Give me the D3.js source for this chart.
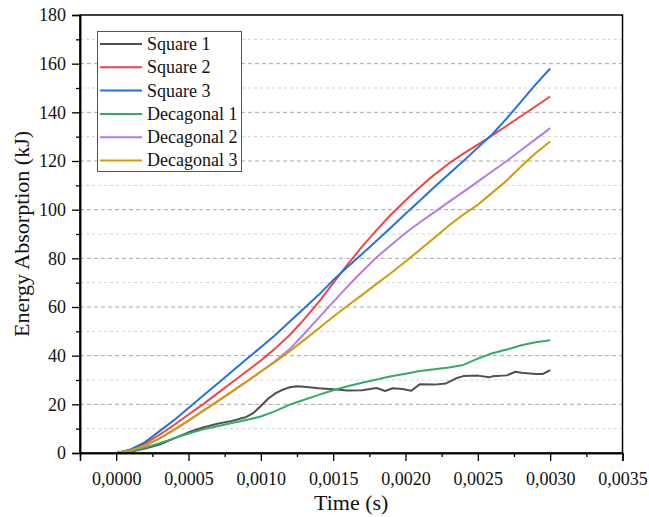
<!DOCTYPE html>
<html>
<head>
<meta charset="utf-8">
<script src="https://cdn.jsdelivr.net/npm/d3@7/dist/d3.min.js"></script>
<style>
  html, body { margin: 0; padding: 0; background: #fff; }
  svg { display: block; font-family: "Liberation Serif", "Times New Roman", serif; }
</style>
</head>
<body>
<svg id="chart" width="649" height="517"></svg>
<script>
// Time samples (s) shared by the smooth curves
const times = [0, 0.0001, 0.0002, 0.0003, 0.0004, 0.0005, 0.0006, 0.0007, 0.0008, 0.0009,
  0.0010, 0.0011, 0.0012, 0.0013, 0.0014, 0.0015, 0.0016, 0.0017, 0.0018, 0.0019,
  0.0020, 0.0021, 0.0022, 0.0023, 0.0024, 0.0025, 0.0026, 0.0027, 0.0028, 0.0029, 0.0030];

// Energy absorption (kJ)
const square2 = [0, 1.2, 4, 7.5, 11.5, 15.8, 20, 24.5, 29, 33.5,
  38, 43, 48.5, 55, 62, 69.8, 77.5, 84.8, 91.6, 98,
  103.8, 109.3, 114.4, 119, 123, 126.7, 130.5, 134.5, 138.5, 142.5, 146.5];
const square3 = [0, 1.5, 4.5, 9, 13.5, 18.5, 23.5, 28.5, 33.5, 38.5,
  43.5, 48.5, 54, 59.5, 65, 71, 76.5, 81.8, 87.2, 92.7,
  98.3, 103.8, 109.3, 114.7, 120, 125.5, 131, 137.5, 144.5, 151.5, 158];
const decagonal1 = [0, 0.6, 2.2, 4, 6, 8, 9.7, 11, 12.3, 13.6,
  15, 17.2, 19.9, 21.9, 23.9, 25.8, 27.4, 28.9, 30.2, 31.5,
  32.6, 33.7, 34.4, 35.1, 36.2, 38.8, 41, 42.5, 44.3, 45.5, 46.3];
const decagonal2 = [0, 1, 3, 6, 9.5, 13.3, 17.3, 21.2, 25.2, 29.3,
  33.5, 37.8, 42.7, 49, 55.5, 62, 68.5, 74.6, 80.4, 85.5,
  90.4, 94.8, 99, 103.2, 107.3, 111.5, 115.8, 120, 124.5, 129, 133.5];
const decagonal3 = [0, 1, 3, 6, 9.5, 13.3, 17.3, 21.2, 25.2, 29.3,
  33.4, 37.5, 41.8, 46.5, 51.2, 56, 60.5, 65, 69.5, 74,
  78.7, 83.5, 88.5, 93.5, 98, 102, 107, 112, 117.8, 123.3, 128];

// Square 1 is sampled more densely because it wiggles
const times1 = [0, 0.0001, 0.0002, 0.0003, 0.0004, 0.0005, 0.0006, 0.0007, 0.0008, 0.0009,
  0.00095, 0.0010, 0.00105, 0.0011, 0.00115, 0.0012, 0.00125, 0.0013, 0.0014, 0.0015,
  0.0016, 0.0017, 0.0018, 0.00186, 0.00191, 0.00198, 0.00204, 0.0021, 0.0022, 0.00228,
  0.00235, 0.0024, 0.0025, 0.00258, 0.0026, 0.0027, 0.00276, 0.0028, 0.0029, 0.00295, 0.0030];
const square1 = [0, 0.5, 1.8, 3.5, 6, 8.5, 10.5, 12, 13.2, 14.8,
  16.5, 19.3, 22.3, 24.5, 26, 27, 27.4, 27.2, 26.6, 26.2,
  25.7, 25.8, 26.7, 25.5, 26.6, 26.3, 25.6, 28.3, 28.1, 28.6,
  30.7, 31.6, 31.8, 31.1, 31.5, 31.9, 33.4, 33, 32.5, 32.5, 34.1];

const seriesNames = ["Square 1", "Square 2", "Square 3", "Decagonal 1", "Decagonal 2", "Decagonal 3"];
const seriesColors = ["#505050", "#f24444", "#2272e0", "#33aa6a", "#b27de4", "#d09c06"];
const xTicks = [0, 0.0005, 0.0010, 0.0015, 0.0020, 0.0025, 0.0030, 0.0035];
const yTicks = [0, 20, 40, 60, 80, 100, 120, 140, 160, 180];

const series = [
  { name: seriesNames[0], t: times1, v: square1, color: seriesColors[0] },
  { name: seriesNames[1], t: times, v: square2, color: seriesColors[1] },
  { name: seriesNames[2], t: times, v: square3, color: seriesColors[2] },
  { name: seriesNames[3], t: times, v: decagonal1, color: seriesColors[3] },
  { name: seriesNames[4], t: times, v: decagonal2, color: seriesColors[4] },
  { name: seriesNames[5], t: times, v: decagonal3, color: seriesColors[5] }
];

const svg = d3.select("#chart");
const plot = { left: 80, right: 622.5, top: 15, bottom: 453 };

const x = d3.scaleLinear().domain([-0.00025, 0.0035]).range([plot.left, plot.right]);
const y = d3.scaleLinear().domain([0, 180]).range([plot.bottom, plot.top]);

// Horizontal grid: darker dashes at labelled values, lighter ones in between
const gridVals = d3.range(10, 180, 10);
svg.append("g").selectAll("line").data(gridVals).join("line")
  .attr("x1", plot.left).attr("x2", plot.right)
  .attr("y1", d => y(d)).attr("y2", d => y(d))
  .attr("stroke", d => d % 20 === 0 ? "#a8a8a8" : "#d2d2d2")
  .attr("stroke-width", 1)
  .attr("stroke-dasharray", d => d % 20 === 0 ? "4,3" : "3,3");

// Curves
const line = d3.line().x(d => x(d[0])).y(d => y(d[1]));
svg.append("g").selectAll("path").data(series).join("path")
  .attr("d", s => line(s.t.map((t, i) => [t, s.v[i]])))
  .attr("fill", "none")
  .attr("stroke", s => s.color)
  .attr("stroke-width", 2)
  .attr("stroke-linejoin", "round");

// Frame
svg.append("rect")
  .attr("x", plot.left).attr("y", plot.top)
  .attr("width", plot.right - plot.left).attr("height", plot.bottom - plot.top)
  .attr("fill", "none").attr("stroke", "#000").attr("stroke-width", 1.5);

// Axes
const fmt = d => d3.format(".4f")(d).replace(".", ",");
const xAxis = d3.axisBottom(x).tickValues(xTicks).tickFormat(fmt).tickSizeOuter(0).tickSize(8).tickPadding(5);
const gx = svg.append("g").attr("transform", `translate(0,${plot.bottom})`).call(xAxis);
const xMinor = d3.axisBottom(x).tickValues(d3.range(-0.00025, 0.0035, 0.0005)).tickFormat("").tickSize(4).tickSizeOuter(0);
const gxm = svg.append("g").attr("transform", `translate(0,${plot.bottom})`).call(xMinor);

const yAxis = d3.axisLeft(y).tickValues(yTicks).tickSizeOuter(0).tickSize(8).tickPadding(5);
const gy = svg.append("g").attr("transform", `translate(${plot.left},0)`).call(yAxis);
const yMinor = d3.axisLeft(y).tickValues(d3.range(10, 180, 20)).tickFormat("").tickSize(4).tickSizeOuter(0);
const gym = svg.append("g").attr("transform", `translate(${plot.left},0)`).call(yMinor);

[gx, gxm, gy, gym].forEach(g => {
  g.select(".domain").attr("stroke", "#000").attr("stroke-width", 1.5);
  g.selectAll(".tick line").attr("stroke", "#000").attr("stroke-width", 1.3);
  g.selectAll("text").attr("font-family", "'Liberation Serif', serif").attr("font-size", 18).attr("fill", "#111");
});
gx.selectAll("text").attr("dy", "1.05em");
gy.selectAll("text").attr("dx", "-0.05em");

// Axis titles
svg.append("text")
  .attr("x", (plot.left + plot.right) / 2).attr("y", 510)
  .attr("text-anchor", "middle")
  .attr("font-size", 22).attr("fill", "#111")
  .text("Time (s)");
svg.append("text")
  .attr("transform", `translate(29,${(plot.top + plot.bottom) / 2}) rotate(-90)`)
  .attr("text-anchor", "middle")
  .attr("font-size", 22).attr("fill", "#111")
  .text("Energy Absorption (kJ)");

// Legend
const legend = svg.append("g");
legend.append("rect")
  .attr("x", 97.5).attr("y", 31.5).attr("width", 144).attr("height", 140)
  .attr("fill", "#fff").attr("stroke", "#555").attr("stroke-width", 1);
const rows = legend.selectAll("g").data(series).join("g")
  .attr("transform", (d, i) => `translate(0,${44 + i * 23.3})`);
rows.append("line")
  .attr("x1", 100).attr("x2", 142).attr("y1", 0).attr("y2", 0)
  .attr("stroke", d => d.color).attr("stroke-width", 2);
rows.append("text")
  .attr("x", 147).attr("y", 0).attr("dy", "0.33em")
  .attr("font-size", 18).attr("fill", "#111")
  .text(d => d.name);
</script>
</body>
</html>
